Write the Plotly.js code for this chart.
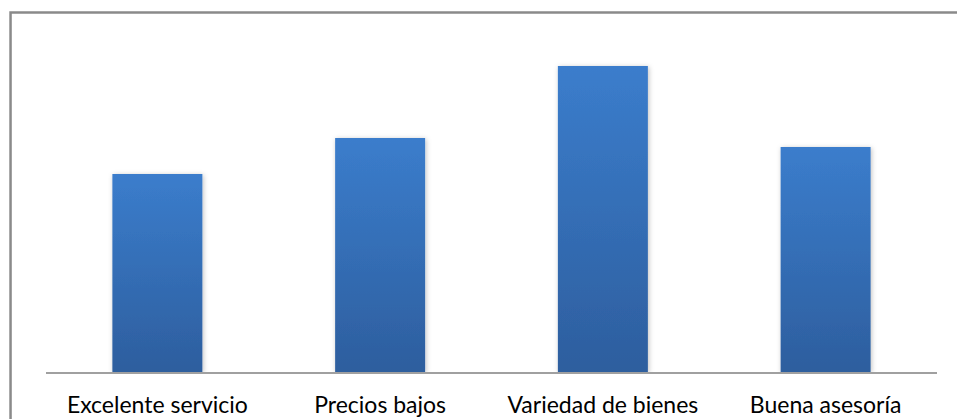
<!DOCTYPE html>
<html>
<head>
<meta charset="utf-8">
<script src="https://cdn.plot.ly/plotly-3.0.1.min.js"></script>
<style>
html,body{margin:0;padding:0;background:#fff;}
#chart{width:957px;height:419px;}
</style>
</head>
<body>
<div id="chart"></div>
<script>
const categories = ["Excelente servicio", "Precios bajos", "Variedad de bienes", "Buena asesoría"];
const values = [22, 26, 34, 25];

const trace = {
  type: "bar",
  x: categories,
  y: values,
  marker: {color: "#3570b8", line: {width: 0}},
  hoverinfo: "none"
};

const layout = {
  width: 957,
  height: 419,
  margin: {l: 46, r: 20, t: 48, b: 47},
  paper_bgcolor: "#ffffff",
  plot_bgcolor: "#ffffff",
  bargap: 0.596,
  showlegend: false,
  font: {family: "Lato, 'Open Sans', sans-serif", size: 20, color: "#000000"},
  xaxis: {
    showline: true, linecolor: "#a0a0a0", linewidth: 2,
    showgrid: false, zeroline: false, ticks: "",
    ticklabelstandoff: 11,
    tickfont: {family: "Lato, 'Open Sans', sans-serif", size: 23, color: "#000000"}
  },
  yaxis: {
    range: [0, 36], showticklabels: false, showgrid: false,
    zeroline: false, showline: false, ticks: ""
  },
  shapes: [{
    type: "rect", xref: "paper", yref: "paper",
    x0: -0.0398, x1: 1.2, y0: -0.3, y1: 1.1096,
    line: {color: "#8a8a8a", width: 2.5}, fillcolor: "rgba(0,0,0,0)", layer: "below"
  }]
};

Plotly.newPlot("chart", [trace], layout, {staticPlot: true}).then(function(gd){
  const svg = gd.querySelector("svg.main-svg");
  const ns = "http://www.w3.org/2000/svg";
  let defs = svg.querySelector("defs");
  if (!defs) { defs = document.createElementNS(ns, "defs"); svg.insertBefore(defs, svg.firstChild); }
  const lg = document.createElementNS(ns, "linearGradient");
  lg.setAttribute("id", "barGrad");
  lg.setAttribute("x1", "0"); lg.setAttribute("y1", "0");
  lg.setAttribute("x2", "0"); lg.setAttribute("y2", "1");
  const s1 = document.createElementNS(ns, "stop");
  s1.setAttribute("offset", "0"); s1.setAttribute("stop-color", "#3b7dcc");
  const s2 = document.createElementNS(ns, "stop");
  s2.setAttribute("offset", "1"); s2.setAttribute("stop-color", "#2d5e9e");
  lg.appendChild(s1); lg.appendChild(s2);
  defs.appendChild(lg);
  const f = document.createElementNS(ns, "filter");
  f.setAttribute("id", "barShadow");
  f.setAttribute("x", "-20%"); f.setAttribute("y", "-20%");
  f.setAttribute("width", "140%"); f.setAttribute("height", "140%");
  const ds = document.createElementNS(ns, "feDropShadow");
  ds.setAttribute("dx", "1"); ds.setAttribute("dy", "1");
  ds.setAttribute("stdDeviation", "2.5");
  ds.setAttribute("flood-color", "#000"); ds.setAttribute("flood-opacity", "0.25");
  f.appendChild(ds);
  defs.appendChild(f);
  gd.querySelectorAll(".bars .point path").forEach(function(p){
    p.style.fill = "url(#barGrad)";
    p.style.filter = "url(#barShadow)";
  });
});
</script>
</body>
</html>
